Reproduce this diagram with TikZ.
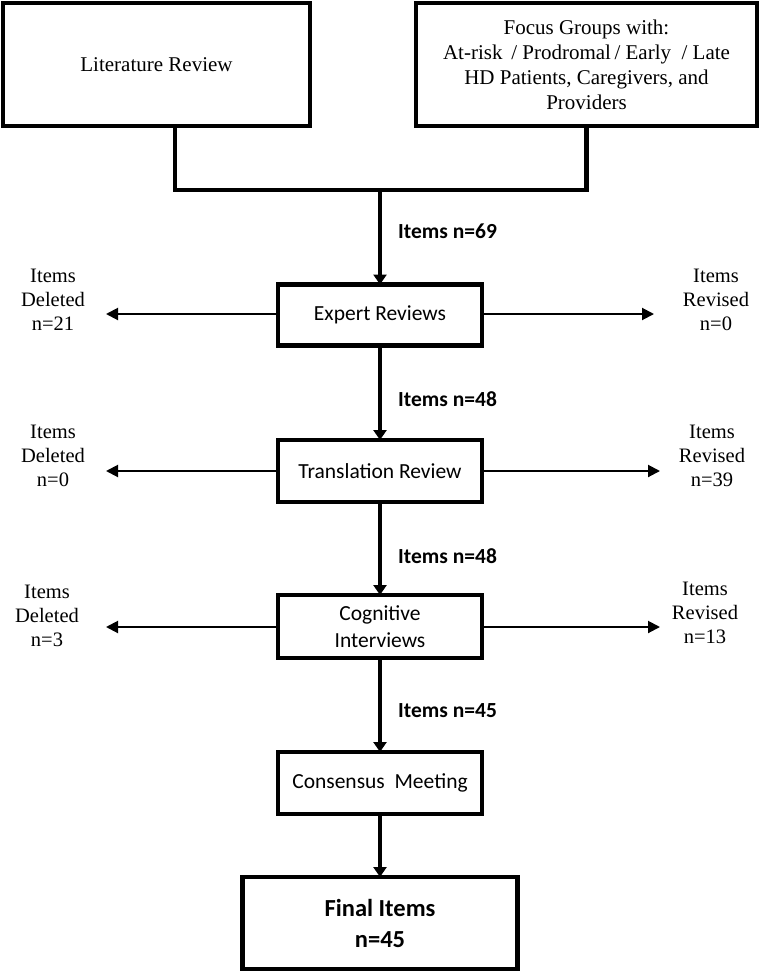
\documentclass[tikz,border=0pt]{standalone}
\usepackage{fontspec}
\setmainfont{Liberation Serif}
\newfontfamily\calfont{Carlito}
\usetikzlibrary{arrows.meta}
\begin{document}
\begin{tikzpicture}[x=1pt,y=-1pt,
  box/.style={draw,line width=4.2pt,inner sep=0pt,outer sep=0pt,align=center},
  stepbox/.style={box,minimum width=204pt,font=\calfont\fontsize{21.5}{27}\selectfont},
  mainarr/.style={line width=4pt,-{Triangle[length=10pt,width=13pt]}},
  sidearr/.style={line width=2pt,-{Triangle[length=12pt,width=12pt]}},
  conn/.style={line width=4.2pt},
  itemlab/.style={anchor=west,inner sep=0pt,font=\calfont\bfseries\fontsize{21.5}{25}\selectfont},
  sidelab/.style={align=center,inner sep=0pt,font=\fontsize{20.5}{24}\selectfont}]
\useasboundingbox (0,0) rectangle (760,972);
% top boxes
\node[box,minimum width=307pt,minimum height=123pt,font=\fontsize{21}{25}\selectfont] (lit) at (156.5,64.5) {Literature Review};
\node[box,minimum width=341pt,minimum height=123pt,font=\fontsize{21}{25}\selectfont] (focus) at (586.5,64.5)
  {Focus Groups with:\\At-risk\,\ /\ Prodromal\,/\ Early\ \ /\ Late\\HD Patients, Caregivers, and\\Providers};
% process boxes
\node[stepbox,minimum height=61pt] (expert) at (380,315) {Expert Reviews};
\node[stepbox,minimum height=62pt] (trans) at (380,471) {Translation Review};
\node[stepbox,minimum height=63pt] (cog) at (380,626.5) {Cognitive\\Interviews};
\node[stepbox,minimum height=62pt] (cons) at (380,783) {Consensus\ \ Meeting};
\node[box,minimum width=275pt,minimum height=92pt,font=\calfont\bfseries\fontsize{24.5}{31}\selectfont] (final) at (380,923) {Final Items\\n=45};
% junction
\coordinate (j1) at (175,190);
\coordinate (j2) at (586.5,190);
\coordinate (j) at (380,190);
\draw[conn] (lit.south -| j1) -- (j1) -- (j2) -- (focus.south);
\draw[mainarr] (j) -- (expert.north);
\draw[mainarr] (expert.south) -- (trans.north);
\draw[mainarr] (trans.south) -- (cog.north);
\draw[mainarr] (cog.south) -- (cons.north);
\draw[mainarr] (cons.south) -- (final.north);
% item labels
\node[itemlab] (l69) at (398,231) {Items n=69};
\node[itemlab] (l48a) at (398,399) {Items n=48};
\node[itemlab] (l48b) at (398,556) {Items n=48};
\node[itemlab] (l45) at (398,711) {Items n=45};
% side arrows
\coordinate (el) at (106,314);
\coordinate (er) at (654,314);
\coordinate (tl) at (106,471);
\coordinate (tr) at (660,471);
\coordinate (cl) at (106,627);
\coordinate (cr) at (660,627);
\draw[sidearr] (expert.west |- el) -- (el);
\draw[sidearr] (expert.east |- er) -- (er);
\draw[sidearr] (trans.west) -- (tl);
\draw[sidearr] (trans.east) -- (tr);
\draw[sidearr] (cog.west |- cl) -- (cl);
\draw[sidearr] (cog.east |- cr) -- (cr);
% side labels
\node[sidelab] (d1) at (53,300) {Items\\Deleted\\n=21};
\node[sidelab] (r1) at (716,300) {Items\\Revised\\n=0};
\node[sidelab] (d2) at (53,456) {Items\\Deleted\\n=0};
\node[sidelab] (r2) at (712,456) {Items\\Revised\\n=39};
\node[sidelab] (d3) at (47,616) {Items\\Deleted\\n=3};
\node[sidelab] (r3) at (705,613) {Items\\Revised\\n=13};
\end{tikzpicture}
\end{document}
